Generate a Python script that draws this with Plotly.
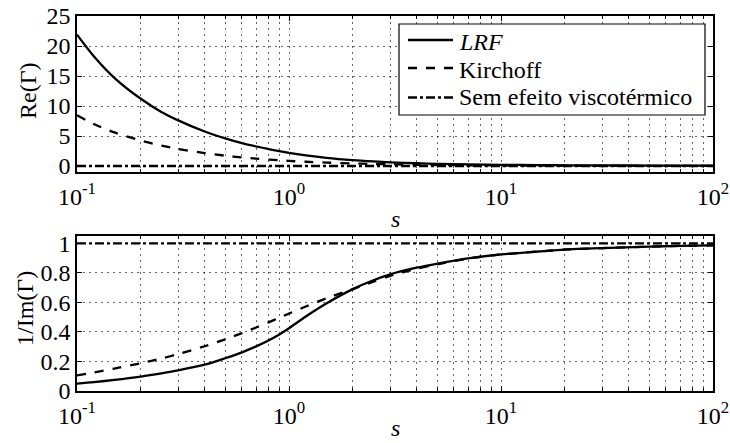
import plotly.graph_objects as go

# Normalised frequency parameter s
s = [0.1, 0.12, 0.15, 0.2, 0.25, 0.3, 0.4, 0.5, 0.6, 0.7, 0.8, 0.9, 1.0, 1.2, 1.5,
     2, 2.5, 3, 4, 5, 7, 10, 15, 20, 30, 50, 70, 100]

# Re(Gamma)
re_lrf = [21.9, 18.3, 14.7, 11.2, 9.0, 7.6, 5.75, 4.6, 3.8, 3.25, 2.83, 2.47, 2.18, 1.76, 1.35,
          0.97, 0.76, 0.62, 0.46, 0.37, 0.27, 0.2, 0.15, 0.12, 0.1, 0.075, 0.065, 0.055]
re_kirchoff = [8.45, 7.0, 5.6, 4.25, 3.4, 2.85, 2.15, 1.72, 1.43, 1.22, 1.07, 0.95, 0.85, 0.71, 0.57,
               0.43, 0.34, 0.28, 0.21, 0.17, 0.12, 0.085, 0.057, 0.043, 0.028, 0.017, 0.012, 0.0085]

# 1/Im(Gamma)
im_lrf = [0.05, 0.06, 0.075, 0.098, 0.12, 0.14, 0.178, 0.222, 0.262, 0.302, 0.342, 0.383, 0.425, 0.505, 0.593,
          0.69, 0.75, 0.79, 0.835, 0.862, 0.898, 0.925, 0.945, 0.958, 0.968, 0.978, 0.983, 0.987]
im_kirchoff = [0.106, 0.125, 0.152, 0.188, 0.22, 0.25, 0.303, 0.35, 0.392, 0.43, 0.465, 0.496, 0.525, 0.572, 0.628,
               0.69, 0.74, 0.78, 0.828, 0.858, 0.897, 0.925, 0.945, 0.958, 0.968, 0.978, 0.983, 0.987]

# Lossless reference (no viscothermal effects)
s_sem = [0.1, 100]
re_sem = [0, 0]
im_sem = [1, 1]

x_ticks = [0.1, 1, 10, 100]
x_ticktext = ["10<sup>-1</sup>", "10<sup>0</sup>", "10<sup>1</sup>", "10<sup>2</sup>"]
y1_ticks = [0, 5, 10, 15, 20, 25]
y2_ticks = [0, 0.2, 0.4, 0.6, 0.8, 1]
y2_ticktext = ["0", "0.2", "0.4", "0.6", "0.8", "1"]

legend_names = ["<i>LRF</i>", "Kirchoff", "Sem efeito viscotérmico"]
dashes = ["solid", "dash", "dashdot"]

# minor log ticks / grid at 2..9 of every decade
minor_vals = [m * 10.0 ** e for e in (-1, 0, 1) for m in range(2, 10)]

FONT = "Liberation Serif, Times New Roman, Times, serif"
FS = 24
GRID = "rgba(0,0,0,0.6)"
GDASH = "2px,4px"
LW = 2.3
W, H = 730, 443

fig = go.Figure()

for name, re_vals, im_vals, xs, dash in zip(
        legend_names, [re_lrf, re_kirchoff, re_sem], [im_lrf, im_kirchoff, im_sem],
        [s, s, s_sem], dashes):
    style = dict(color="black", width=LW, dash=dash, shape="spline", smoothing=0.8)
    fig.add_trace(go.Scatter(x=xs, y=re_vals, mode="lines", name=name, line=style,
                             xaxis="x", yaxis="y", showlegend=False))
    fig.add_trace(go.Scatter(x=xs, y=im_vals, mode="lines", name=name, line=style,
                             xaxis="x2", yaxis="y2", showlegend=False))

xcommon = dict(
    type="log", range=[-1, 2], tickvals=x_ticks, ticktext=x_ticktext,
    ticks="inside", ticklen=5, tickwidth=1, tickcolor="black",
    showline=True, linecolor="black", linewidth=1.5, mirror="ticks",
    showgrid=True, gridcolor=GRID, griddash=GDASH, gridwidth=1,
    minor=dict(tickvals=minor_vals, ticks="inside", ticklen=3, tickcolor="black",
               showgrid=True, gridcolor=GRID, griddash=GDASH, gridwidth=1),
    tickfont=dict(family=FONT, size=FS, color="black"),
    zeroline=False, ticklabelstandoff=2, automargin=False,
)
ycommon = dict(
    ticks="inside", ticklen=5, tickwidth=1, tickcolor="black",
    showline=True, linecolor="black", linewidth=1.5, mirror="ticks",
    showgrid=True, gridcolor=GRID, griddash=GDASH, gridwidth=1,
    tickfont=dict(family=FONT, size=FS, color="black"),
    zeroline=False, ticklabelstandoff=0, automargin=False,
)

X0, X1 = 77 / W, 713 / W
fig.update_layout(
    width=W, height=H,
    margin=dict(l=0, r=0, t=0, b=0, autoexpand=False),
    paper_bgcolor="white", plot_bgcolor="white",
    font=dict(family=FONT, size=FS, color="black"),
    xaxis=dict(domain=[X0, X1], anchor="y", **xcommon),
    yaxis=dict(domain=[1 - 172 / H, 1 - 16 / H], anchor="x", range=[-1, 25], tickvals=y1_ticks, **ycommon),
    xaxis2=dict(domain=[X0, X1], anchor="y2", **xcommon),
    yaxis2=dict(domain=[1 - 391 / H, 1 - 236 / H], anchor="x2", range=[0, 1.05], tickvals=y2_ticks,
                ticktext=y2_ticktext, **ycommon),
    showlegend=False,
)

# axis titles
titles = [
    ("<i>s</i>", (X0 + X1) / 2, 1 - 219 / H, "middle", 0),
    ("<i>s</i>", (X0 + X1) / 2, 0.0, "bottom", 0),
    ("Re(Γ)", 28 / W, 1 - 91 / H, "middle", -90),
    ("1/Im(Γ)", 25 / W, 1 - 309 / H, "middle", -90),
]
for text, ax_x, ax_y, yanc, ang in titles:
    fig.add_annotation(text=text, x=ax_x, y=ax_y, xref="paper", yref="paper",
                       xanchor="center", yanchor=yanc, showarrow=False, textangle=ang,
                       font=dict(family=FONT, size=FS, color="black"))

# legend box drawn in the upper panel
fig.add_shape(type="rect", xref="paper", yref="paper",
              x0=399 / W, x1=705 / W, y0=1 - 115 / H, y1=1 - 24 / H,
              line=dict(color="black", width=1.2), fillcolor="white", layer="above")
row_line_y = [40, 68, 97.5]
row_text_y = [41.5, 70, 97.5]
for name, dash, ly, ty in zip(legend_names, dashes, row_line_y, row_text_y):
    fig.add_shape(type="line", xref="paper", yref="paper",
                  x0=408 / W, x1=453 / W, y0=1 - ly / H, y1=1 - ly / H,
                  line=dict(color="black", width=LW, dash=dash), layer="above")
    fig.add_annotation(text=name, x=457 / W, y=1 - ty / H, xref="paper", yref="paper",
                       xanchor="left", yanchor="middle", showarrow=False,
                       font=dict(family=FONT, size=FS, color="black"))

fig.write_html("out.html")
